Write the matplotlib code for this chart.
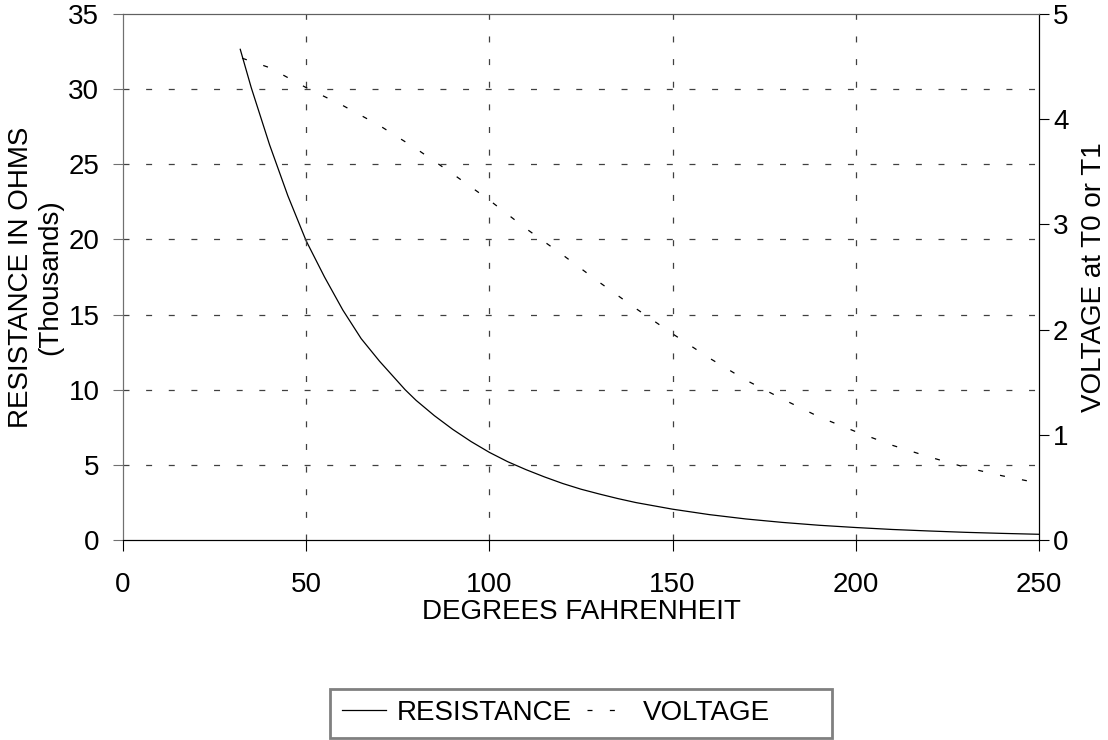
import matplotlib
matplotlib.use("Agg")
import matplotlib.pyplot as plt
from matplotlib.lines import Line2D
from matplotlib.patches import Rectangle

plt.rcParams['font.family'] = ['Liberation Sans', 'DejaVu Sans']
plt.rcParams['lines.scale_dashes'] = False

# Data
temp_r = [32, 35, 40, 45, 50, 55, 60, 65, 70, 77, 80, 85, 90, 95, 100, 105, 110,
          115, 120, 125, 130, 135, 140, 150, 160, 170, 180, 190, 200, 210, 220,
          230, 240, 250]
resistance_k = [32.65, 30.1, 26.3, 22.9, 19.9, 17.5, 15.3, 13.4, 11.9, 10.0, 9.29,
                8.27, 7.36, 6.55, 5.83, 5.21, 4.68, 4.20, 3.76, 3.38, 3.06, 2.76,
                2.49, 2.05, 1.69, 1.40, 1.17, 0.98, 0.83, 0.70, 0.60, 0.51, 0.44,
                0.38]
temp_v = [32.5, 40, 50, 60, 70, 80, 90, 100, 110, 120, 130, 140, 150, 160, 170,
          180, 190, 200, 210, 220, 230, 240, 250]
voltage = [4.58, 4.49, 4.30, 4.13, 3.94, 3.72, 3.48, 3.23, 2.96, 2.71, 2.45, 2.20,
           1.96, 1.73, 1.52, 1.34, 1.17, 1.03, 0.90, 0.79, 0.69, 0.61, 0.54]

xticks = [0, 50, 100, 150, 200, 250]
yticks_left = [0, 5, 10, 15, 20, 25, 30, 35]
yticks_right = [0, 1, 2, 3, 4, 5]

FS = 20
W, H = 1108, 740
fig = plt.figure(figsize=(W/100, H/100), dpi=100)
ax = fig.add_axes([123/W, 1-540/H, (1039-123)/W, (540-14)/H])
ax2 = ax.twinx()

ax.plot(temp_r, resistance_k, color='black', lw=0.9)
vline, = ax2.plot(temp_v, voltage, color='black', lw=0.9)
vline.set_dashes((3.6, 12.5))

ax.set_xlim(0, 250)
ax.set_ylim(0, 35)
ax2.set_ylim(0, 5)
ax.set_xticks(xticks)
ax.set_yticks(yticks_left)
ax2.set_yticks(yticks_right)

grid_kw = dict(color='#404040', lw=0.9, dashes=(4.3, 12))
for xv in xticks[1:-1]:
    ax.axvline(xv, **grid_kw)
for yv in yticks_left[1:-1]:
    ax.axhline(yv, **grid_kw)

ax.tick_params(axis='x', direction='out', length=8, pad=15, labelsize=FS)
ax.tick_params(axis='y', direction='out', length=7, pad=10, labelsize=FS, color='#707070')
ax2.tick_params(axis='y', direction='out', length=7, pad=3, labelsize=FS)

for a in (ax, ax2):
    a.spines['left'].set_color('#707070')
    a.spines['top'].set_color('#606060')
    a.spines['right'].set_color('black')
    a.spines['bottom'].set_color('black')

ax.set_xlabel('DEGREES FAHRENHEIT', fontsize=FS, labelpad=1)
ax.set_ylabel('RESISTANCE IN OHMS\n(Thousands)', fontsize=FS, labelpad=4, linespacing=1.15)
ax2.set_ylabel('VOLTAGE at T0 or T1', fontsize=FS)
ax2.yaxis.set_label_coords((1081-123)/916, 0.5)

# Legend (frame drawn separately to match the wide box)
h1 = Line2D([], [], color='black', lw=0.9)
h2 = Line2D([], [], color='black', lw=0.9, dashes=(3.6, 12.5))
leg = fig.legend([h1, h2], ['RESISTANCE', 'VOLTAGE'], ncol=2, fontsize=FS,
                 loc='center left', bbox_to_anchor=(342/W, 1-713/H),
                 frameon=False, handlelength=1.58, handletextpad=0.4,
                 columnspacing=0.55, borderpad=0.0, borderaxespad=0.0)
fig.add_artist(Rectangle((330/W, 1-738/H), (832-330)/W, (738-689)/H,
                         transform=fig.transFigure, fill=False,
                         edgecolor='#808080', lw=2))

fig.savefig('out.png', dpi=100)
